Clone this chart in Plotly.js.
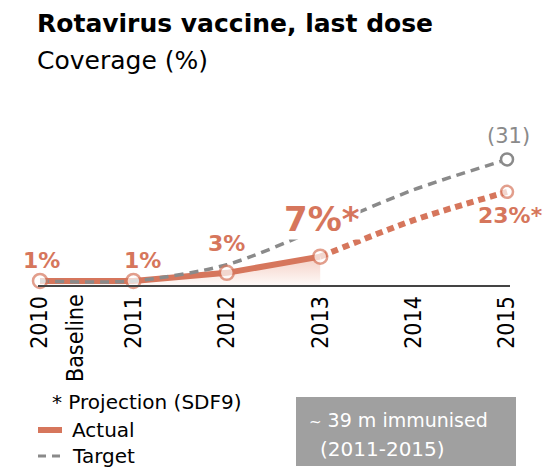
<!DOCTYPE html>
<html>
<head>
<meta charset="utf-8">
<script src="https://cdn.plot.ly/plotly-3.0.1.min.js"></script>
<style>html,body{margin:0;padding:0;background:#fff;}#chart{width:557px;height:471px;}</style>
</head>
<body>
<div id="chart"></div>
<script>
// ---- data ----
const years = [2010, 2011, 2012, 2013, 2014, 2015];
const tickLabels = ["2010", "2011", "2012", "2013", "2014", "2015"];
const baselineLabel = "Baseline";
const actualYears = [2010, 2011, 2012, 2013];
const actualValues = [1, 1, 3, 7];
const projectionYears = [2013, 2014, 2015];
const projectionValues = [7, 16, 23];
const targetValues = [1, 1, 5, 14, 23.5, 31];
const actualLabels = ["1%", "1%", "3%", "7%*"];
const projectionLabel = "23%*";
const targetLabel = "(31)";

// ---- styles ----
const ORANGE = "rgb(214,118,92)";
const GRAY = "rgb(138,138,138)";
const LABEL_FONT = "'DejaVu Sans', 'Open Sans', sans-serif";
const TICK_FONT = "'DejaVu Sans Condensed', 'Liberation Sans Narrow', sans-serif";

const traces = [
  { // gradient fill under actual
    x: actualYears, y: actualValues, type: "scatter", mode: "none",
    fill: "tozeroy",
    fillgradient: {type: "vertical", colorscale: [[0, "rgba(232,150,125,0.06)"], [1, "rgba(232,150,125,0.45)"]]},
    hoverinfo: "skip", showlegend: false
  },
  { // actual
    x: actualYears, y: actualValues, type: "scatter", mode: "lines", cliponaxis: false,
    line: {color: ORANGE, width: 6}, showlegend: false
  },
  { // projection
    x: projectionYears, y: projectionValues, type: "scatter", mode: "lines", cliponaxis: false,
    line: {color: ORANGE, width: 6, dash: "7px,5px", shape: "spline", smoothing: 0.8}, showlegend: false
  },
  { // target
    x: years, y: targetValues, type: "scatter", mode: "lines", cliponaxis: false,
    line: {color: GRAY, width: 3.5, dash: "9px,6px", shape: "spline", smoothing: 0.8}, showlegend: false
  },
  { // target end marker
    x: [years[years.length - 1]], y: [targetValues[targetValues.length - 1]], type: "scatter", mode: "markers", cliponaxis: false,
    marker: {size: 12, color: "#fff", line: {color: GRAY, width: 2.5}}, showlegend: false
  },
  { // actual markers
    x: actualYears.concat([projectionYears[projectionYears.length - 1]]),
    y: actualValues.concat([projectionValues[projectionValues.length - 1]]),
    type: "scatter", mode: "markers", cliponaxis: false,
    marker: {size: [14, 14, 14, 14, 12], color: "#fff", line: {color: ORANGE, width: 2.5}}, showlegend: false
  }
];

const annotations = [];
const shifts = [[1, 20, 22], [9, 20, 22], [0, 29, 22], [2, 38, 34]];
actualYears.forEach((yr, i) => {
  annotations.push({x: yr, y: actualValues[i], text: "<b>" + actualLabels[i] + "</b>", showarrow: false,
    xshift: shifts[i][0], yshift: shifts[i][1], bgcolor: i === 3 ? "#fff" : "rgba(0,0,0,0)", borderpad: 0,
    font: {family: LABEL_FONT, size: shifts[i][2], color: ORANGE}});
});
annotations.push({x: projectionYears[2], y: projectionValues[2], text: "<b>" + projectionLabel + "</b>", showarrow: false,
  xshift: 3, yshift: -24, font: {family: LABEL_FONT, size: 22, color: ORANGE}});
annotations.push({x: years[5], y: targetValues[5], text: targetLabel, showarrow: false,
  xshift: 1, yshift: 23, font: {family: LABEL_FONT, size: 21, color: GRAY}});
// second line of the 2010 tick label
annotations.push({x: years[0], y: 0, yref: "y", text: baselineLabel, showarrow: false, textangle: -90,
  xanchor: "center", yanchor: "top", xshift: 35, yshift: -7, font: {family: TICK_FONT, size: 23, color: "#000"}});

// title & legend text (paper coords)
const W = 472, H = 241, L = 38, B = 285;
const px = v => (v - L) / W;
const py = v => (B - v) / H;
annotations.push({xref: "paper", yref: "paper", x: px(35), y: py(23), xanchor: "left", yanchor: "middle", showarrow: false,
  text: "<b>Rotavirus vaccine, last dose</b>", font: {family: LABEL_FONT, size: 25, color: "#000"}});
annotations.push({xref: "paper", yref: "paper", x: px(35), y: py(60), xanchor: "left", yanchor: "middle", showarrow: false,
  text: "Coverage (%)", font: {family: LABEL_FONT, size: 25, color: "#000"}});
annotations.push({xref: "paper", yref: "paper", x: px(50), y: py(402), xanchor: "left", yanchor: "middle", showarrow: false,
  text: "* Projection (SDF9)", font: {family: LABEL_FONT, size: 20, color: "#000"}});
annotations.push({xref: "paper", yref: "paper", x: px(70), y: py(430), xanchor: "left", yanchor: "middle", showarrow: false,
  text: "Actual", font: {family: LABEL_FONT, size: 20, color: "#000"}});
annotations.push({xref: "paper", yref: "paper", x: px(70), y: py(456), xanchor: "left", yanchor: "middle", showarrow: false,
  text: "Target", font: {family: LABEL_FONT, size: 20, color: "#000"}});
annotations.push({xref: "paper", yref: "paper", x: px(307), y: py(420), xanchor: "left", yanchor: "middle", showarrow: false,
  text: "<span style='font-size:15px'>~</span> 39 m immunised", font: {family: LABEL_FONT, size: 19, color: "#fff"}});
annotations.push({xref: "paper", yref: "paper", x: px(318), y: py(449), xanchor: "left", yanchor: "middle", showarrow: false,
  text: "(2011-2015)", font: {family: LABEL_FONT, size: 20, color: "#fff"}});

const shapes = [
  {type: "rect", xref: "paper", yref: "paper", x0: px(296), x1: px(516), y0: py(397), y1: py(466),
   fillcolor: "rgb(160,160,160)", line: {width: 0}, layer: "below"},
  {type: "line", xref: "paper", yref: "paper", x0: px(38), x1: px(62), y0: py(430), y1: py(430),
   line: {color: ORANGE, width: 6}},
  {type: "line", xref: "paper", yref: "paper", x0: px(38), x1: px(62), y0: py(456), y1: py(456),
   line: {color: GRAY, width: 3, dash: "8px,6px"}}
];

const layout = {
  width: 557, height: 471,
  margin: {l: 38, r: 47, t: 44, b: 186, pad: 0},
  paper_bgcolor: "#fff", plot_bgcolor: "#fff",
  showlegend: false,
  xaxis: {
    range: [2009.9786, 2015.032], tickvals: years, ticktext: tickLabels, tickangle: -90,
    showgrid: false, zeroline: false, showline: true, linecolor: "#444", linewidth: 2,
    ticks: "", tickfont: {family: TICK_FONT, size: 23, color: "#000"}, fixedrange: true
  },
  yaxis: {range: [0, 241 / 4.05], visible: false, showgrid: false, zeroline: false, fixedrange: true},
  annotations: annotations,
  shapes: shapes
};
Plotly.newPlot("chart", traces, layout, {displayModeBar: false, staticPlot: true});
</script>
</body>
</html>
